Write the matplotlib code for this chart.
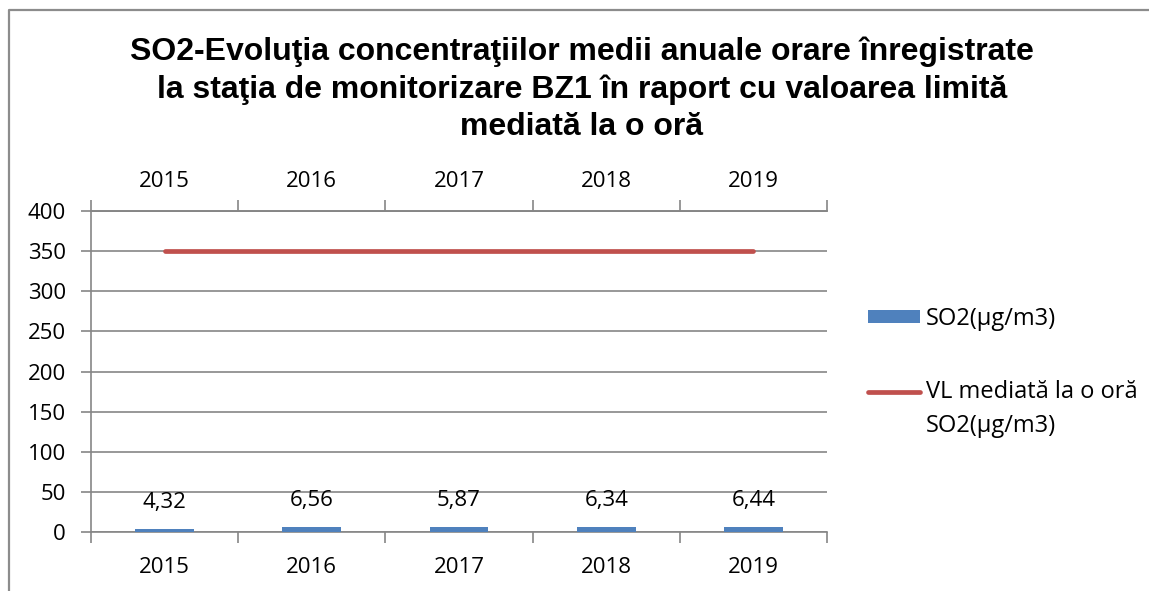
import matplotlib.pyplot as plt
import numpy as np
from matplotlib.lines import Line2D
from matplotlib.legend_handler import HandlerLine2D

# chart values
years = ['2015', '2016', '2017', '2018', '2019']
so2_values = [4.32, 6.56, 5.87, 6.34, 6.44]
limit_values = [350, 350, 350, 350, 350]
value_labels = ['4,32', '6,56', '5,87', '6,34', '6,44']

title = ('SO2-Evoluţia concentraţiilor medii anuale orare înregistrate\n'
         'la staţia de monitorizare BZ1 în raport cu valoarea limită\n'
         'mediată la o oră')
bar_label = 'SO2(µg/m3)'
line_label = 'VL mediată la o oră\nSO2(µg/m3)'

BLUE = '#4F81BD'
RED = '#C0504D'
GREY = '#868686'
TICK_FONT = 'Open Sans'
FS = 16
LEG_FS = 17


class TopAlignedLine(HandlerLine2D):
    """Legend line placed next to the first row of a two-line label."""
    def create_artists(self, legend, orig_handle, xdescent, ydescent,
                       width, height, fontsize, trans):
        arts = super().create_artists(legend, orig_handle, xdescent, ydescent,
                                      width, height, fontsize, trans)
        for a in arts:
            a.set_ydata(np.asarray(a.get_ydata()) + 13.5)
        return arts


fig = plt.figure(figsize=(11.49, 5.91), dpi=100)
ax = fig.add_axes([0.0792, 0.0998, 0.7198 - 0.0792, 0.643 - 0.0998])

x = np.arange(len(years))
bounds = np.arange(-0.5, len(years))

# bars and limit line
bars = ax.bar(x, so2_values, width=0.4, color=BLUE, label=bar_label, zorder=3)
line, = ax.plot(x, limit_values, color=RED, linewidth=3.4, solid_capstyle='round',
                label=line_label, zorder=4)

# data labels above bars
for xi, v, lab in zip(x, so2_values, value_labels):
    ax.annotate(lab, (xi, v), xytext=(0, 19), textcoords='offset points',
                ha='center', va='center', fontsize=FS, family=TICK_FONT)

# axes limits and ticks
ax.set_xlim(-0.5, len(years) - 0.5)
ax.set_ylim(0, 400)
ax.set_yticks(np.arange(0, 401, 50))
ax.set_yticklabels([str(v) for v in range(0, 401, 50)], family=TICK_FONT, fontsize=FS)
ax.tick_params(axis='y', length=7, width=1.2, color=GREY, pad=11)

ax.set_xticks(bounds)
ax.set_xticklabels([])
ax.set_xticks(x, minor=True)
ax.set_xticklabels(years, minor=True, family=TICK_FONT, fontsize=FS)
ax.tick_params(axis='x', which='major', length=8, width=1.2, color=GREY,
               direction='out')
ax.tick_params(axis='x', which='minor', length=0, pad=18)

# category labels repeated on top
top = ax.secondary_xaxis('top')
top.set_xticks(bounds)
top.set_xticklabels([])
top.set_xticks(x, minor=True)
top.set_xticklabels(years, minor=True, family=TICK_FONT, fontsize=FS)
top.tick_params(axis='x', which='major', length=8, width=1.2, color=GREY)
top.tick_params(axis='x', which='minor', length=0, pad=14)
top.spines['top'].set_color(GREY)
top.spines['top'].set_linewidth(1.2)

ax.grid(axis='y', color=GREY, linewidth=1.2, zorder=0)
for side in ['left', 'bottom', 'top']:
    ax.spines[side].set_color(GREY)
    ax.spines[side].set_linewidth(1.2)
ax.spines['right'].set_visible(False)

# legend
leg = ax.legend([bars, line], [bar_label, line_label],
                loc='upper left', bbox_to_anchor=(1.027, 0.768), frameon=False,
                prop={'family': TICK_FONT, 'size': LEG_FS}, handlelength=2.2,
                handleheight=0.5, handletextpad=0.25, labelspacing=2.1,
                handler_map={Line2D: TopAlignedLine()})
leg.get_texts()[1].set_linespacing(1.55)

# title
fig.text(0.5065, 0.849, title, ha='center', va='center', fontsize=23,
         fontweight='bold', family='Liberation Sans', linespacing=1.31)

# chart frame (left and top edges visible)
fig.add_artist(Line2D([0.0075, 0.0075, 1.0], [0.0, 0.983, 0.983],
                      transform=fig.transFigure, color='#8c8c8c', linewidth=1.6))

fig.savefig('out.png', dpi=100)
